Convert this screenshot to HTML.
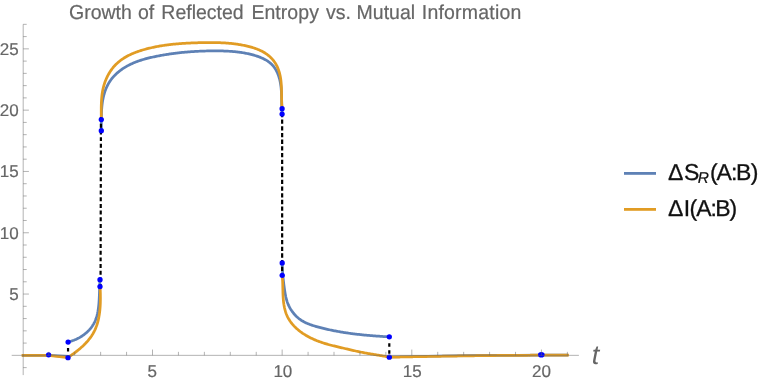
<!DOCTYPE html>
<html><head><meta charset="utf-8"><title>Growth of Reflected Entropy vs. Mutual Information</title>
<style>
html,body{margin:0;padding:0;background:#fff}
body{width:766px;height:384px;overflow:hidden;position:relative}
svg{position:absolute;left:0;top:0;display:block;will-change:transform}
text{font-family:"Liberation Sans",sans-serif;text-rendering:geometricPrecision}
</style></head><body>
<svg width="766" height="384" viewBox="0 0 766 384">
<rect width="766" height="384" fill="#fff"/>
<g fill="none" stroke="#5e81b5" stroke-width="2.75" stroke-linejoin="round" stroke-linecap="butt">
<path d="M22.00,355.35 L48.50,355.35 L68.00,356.30"/>
<path d="M68.10,342.10 L69.01,341.77 L70.00,341.51 L70.98,341.22 L71.96,340.91 L72.93,340.57 L73.90,340.21 L74.85,339.83 L75.80,339.43 L76.74,339.00 L77.66,338.55 L78.58,338.08 L79.48,337.59 L80.37,337.07 L81.24,336.54 L82.11,335.98 L82.95,335.40 L83.78,334.80 L84.60,334.19 L85.39,333.55 L86.17,332.90 L86.93,332.22 L87.67,331.53 L88.39,330.82 L89.09,330.09 L89.76,329.34 L90.42,328.57 L91.04,327.79 L91.65,326.99 L92.23,326.18 L92.78,325.34 L93.31,324.50 L93.81,323.63 L94.28,322.75 L94.73,321.86 L95.14,320.95 L95.53,320.03 L95.89,319.09 L96.22,318.14 L96.53,317.19 L96.82,316.22 L97.08,315.24 L97.32,314.25 L97.55,313.26 L97.75,312.25 L97.94,311.25 L98.11,310.23 L98.26,309.22 L98.40,308.19 L98.53,307.17 L98.65,306.14 L98.75,305.12 L98.85,304.09 L98.93,303.06 L99.01,302.03 L99.08,301.00 L99.14,299.98 L99.20,298.95 L99.25,297.92 L99.30,296.90 L99.34,295.87 L99.38,294.85 L99.42,293.83 L99.45,292.81 L99.48,291.79 L99.52,290.77 L99.55,289.76 L99.58,288.74 L99.62,287.73 L99.66,286.72 L99.70,285.72 L99.74,284.71 L99.79,283.71 L99.85,282.72 L99.91,281.72 L99.97,280.73 L100.00,279.70"/>
<path d="M101.30,130.50 L101.31,129.49 L101.32,128.51 L101.32,127.52 L101.32,126.53 L101.32,125.53 L101.32,124.54 L101.32,123.53 L101.32,122.53 L101.32,121.53 L101.33,120.52 L101.33,119.51 L101.34,118.50 L101.35,117.49 L101.37,116.48 L101.39,115.46 L101.42,114.45 L101.45,113.44 L101.49,112.42 L101.54,111.41 L101.60,110.40 L101.66,109.39 L101.73,108.38 L101.81,107.37 L101.91,106.36 L102.01,105.36 L102.12,104.35 L102.25,103.35 L102.38,102.35 L102.54,101.36 L102.70,100.36 L102.88,99.38 L103.07,98.39 L103.28,97.41 L103.51,96.43 L103.75,95.46 L104.00,94.49 L104.28,93.53 L104.57,92.57 L104.89,91.62 L105.22,90.67 L105.57,89.73 L105.94,88.80 L106.33,87.88 L106.75,86.96 L107.18,86.06 L107.63,85.16 L108.10,84.27 L108.60,83.40 L109.12,82.54 L109.65,81.69 L110.21,80.85 L110.80,80.03 L111.40,79.22 L112.02,78.43 L112.67,77.65 L113.33,76.89 L114.01,76.14 L114.70,75.41 L115.42,74.69 L116.14,73.99 L116.88,73.30 L117.64,72.63 L118.41,71.98 L119.18,71.34 L119.97,70.72 L120.77,70.12 L121.58,69.53 L122.40,68.96 L123.23,68.40 L124.06,67.86 L124.91,67.33 L125.76,66.82 L126.62,66.32 L127.49,65.84 L128.37,65.37 L129.25,64.92 L130.14,64.48 L131.04,64.05 L131.95,63.63 L132.86,63.23 L133.78,62.83 L134.70,62.45 L135.63,62.08 L136.56,61.72 L137.50,61.38 L138.45,61.04 L139.40,60.71 L140.35,60.40 L141.31,60.09 L142.27,59.79 L143.24,59.50 L144.21,59.22 L145.18,58.94 L146.16,58.68 L147.14,58.42 L148.12,58.17 L149.11,57.93 L150.09,57.69 L151.08,57.46 L152.07,57.24 L153.06,57.02 L154.06,56.81 L155.05,56.60 L156.04,56.39 L157.04,56.20 L158.03,56.00 L159.03,55.81 L160.02,55.62 L161.02,55.44 L162.01,55.26 L163.01,55.09 L164.00,54.92 L165.00,54.75 L166.00,54.59 L166.99,54.43 L167.99,54.27 L168.98,54.12 L169.98,53.98 L170.98,53.83 L171.97,53.69 L172.97,53.56 L173.97,53.42 L174.96,53.29 L175.96,53.17 L176.96,53.05 L177.96,52.93 L178.95,52.82 L179.95,52.71 L180.95,52.60 L181.95,52.49 L182.94,52.39 L183.94,52.30 L184.94,52.20 L185.94,52.11 L186.94,52.03 L187.94,51.94 L188.94,51.86 L189.93,51.79 L190.93,51.72 L191.93,51.65 L192.93,51.58 L193.93,51.52 L194.93,51.46 L195.93,51.40 L196.93,51.34 L197.93,51.29 L198.93,51.25 L199.93,51.20 L200.93,51.16 L201.94,51.12 L202.94,51.09 L203.94,51.05 L204.94,51.03 L205.94,51.00 L206.94,50.98 L207.95,50.96 L208.95,50.94 L209.95,50.92 L210.95,50.91 L211.95,50.90 L212.96,50.89 L213.96,50.89 L214.96,50.89 L215.97,50.89 L216.97,50.90 L217.97,50.90 L218.98,50.91 L219.98,50.93 L220.99,50.95 L221.99,50.97 L222.99,50.99 L224.00,51.02 L225.00,51.06 L226.00,51.10 L227.01,51.14 L228.01,51.19 L229.01,51.25 L230.02,51.31 L231.02,51.38 L232.02,51.45 L233.02,51.53 L234.02,51.62 L235.02,51.72 L236.02,51.82 L237.02,51.93 L238.02,52.05 L239.02,52.17 L240.02,52.31 L241.01,52.45 L242.01,52.60 L243.00,52.76 L244.00,52.93 L244.99,53.11 L245.98,53.30 L246.98,53.50 L247.97,53.71 L248.96,53.93 L249.95,54.16 L250.93,54.40 L251.92,54.65 L252.90,54.92 L253.89,55.19 L254.87,55.48 L255.85,55.78 L256.83,56.09 L257.80,56.42 L258.77,56.77 L259.72,57.13 L260.67,57.50 L261.61,57.90 L262.54,58.31 L263.45,58.74 L264.35,59.19 L265.24,59.66 L266.10,60.15 L266.95,60.67 L267.78,61.20 L268.59,61.76 L269.38,62.35 L270.14,62.96 L270.88,63.60 L271.59,64.26 L272.27,64.95 L272.93,65.67 L273.55,66.42 L274.15,67.19 L274.72,67.99 L275.26,68.81 L275.77,69.66 L276.26,70.52 L276.72,71.40 L277.16,72.31 L277.57,73.22 L277.95,74.16 L278.31,75.10 L278.65,76.06 L278.97,77.02 L279.26,78.00 L279.53,78.98 L279.78,79.96 L280.01,80.96 L280.21,81.95 L280.40,82.95 L280.57,83.95 L280.73,84.95 L280.87,85.96 L280.99,86.96 L281.10,87.97 L281.19,88.99 L281.28,90.00 L281.35,91.01 L281.41,92.03 L281.47,93.05 L281.51,94.06 L281.55,95.08 L281.58,96.09 L281.61,97.11 L281.63,98.12 L281.65,99.14 L281.66,100.15 L281.68,101.16 L281.69,102.17 L281.71,103.18 L281.73,104.18 L281.75,105.19 L281.77,106.19 L281.80,107.18 L281.83,108.18 L281.87,109.16 L281.91,110.15 L281.97,111.13 L282.03,112.11 L282.11,113.08 L282.15,114.10"/>
<path d="M282.20,262.95 L282.18,263.97 L282.21,264.97 L282.25,265.98 L282.29,266.98 L282.34,267.99 L282.39,268.99 L282.45,269.99 L282.51,271.00 L282.58,272.00 L282.65,273.00 L282.73,274.00 L282.82,275.00 L282.90,276.00 L283.00,277.00 L283.09,278.00 L283.19,279.00 L283.30,280.00 L283.41,281.00 L283.53,282.00 L283.64,283.01 L283.77,284.01 L283.89,285.01 L284.03,286.01 L284.16,287.01 L284.30,288.01 L284.44,289.02 L284.59,290.02 L284.74,291.02 L284.90,292.02 L285.06,293.02 L285.24,294.02 L285.43,295.02 L285.63,296.01 L285.84,297.00 L286.08,297.98 L286.33,298.96 L286.60,299.93 L286.89,300.89 L287.20,301.85 L287.54,302.79 L287.91,303.73 L288.30,304.66 L288.71,305.58 L289.16,306.48 L289.62,307.38 L290.11,308.26 L290.63,309.13 L291.17,309.98 L291.73,310.82 L292.31,311.64 L292.91,312.45 L293.54,313.24 L294.19,314.01 L294.86,314.76 L295.54,315.49 L296.25,316.20 L296.98,316.89 L297.72,317.56 L298.49,318.21 L299.27,318.83 L300.07,319.42 L300.88,320.00 L301.72,320.54 L302.56,321.06 L303.43,321.56 L304.30,322.03 L305.19,322.48 L306.10,322.91 L307.01,323.33 L307.94,323.72 L308.87,324.09 L309.81,324.45 L310.76,324.79 L311.72,325.12 L312.68,325.44 L313.65,325.74 L314.63,326.04 L315.60,326.33 L316.58,326.61 L317.56,326.88 L318.54,327.14 L319.52,327.41 L320.51,327.66 L321.49,327.92 L322.47,328.16 L323.46,328.41 L324.44,328.64 L325.43,328.88 L326.41,329.11 L327.40,329.33 L328.38,329.55 L329.37,329.77 L330.36,329.98 L331.34,330.19 L332.33,330.39 L333.32,330.59 L334.31,330.78 L335.30,330.97 L336.29,331.16 L337.28,331.34 L338.27,331.52 L339.26,331.70 L340.25,331.87 L341.24,332.04 L342.24,332.20 L343.23,332.36 L344.22,332.52 L345.22,332.67 L346.21,332.82 L347.21,332.97 L348.20,333.11 L349.20,333.25 L350.19,333.39 L351.19,333.52 L352.18,333.65 L353.18,333.78 L354.18,333.91 L355.18,334.03 L356.17,334.15 L357.17,334.26 L358.17,334.38 L359.17,334.49 L360.17,334.60 L361.17,334.70 L362.17,334.81 L363.17,334.91 L364.17,335.01 L365.17,335.10 L366.18,335.20 L367.18,335.29 L368.18,335.38 L369.18,335.47 L370.19,335.55 L371.19,335.64 L372.19,335.72 L373.20,335.80 L374.20,335.88 L375.21,335.95 L376.21,336.03 L377.22,336.10 L378.22,336.17 L379.23,336.24 L380.24,336.31 L381.24,336.38 L382.25,336.44 L383.26,336.51 L384.27,336.57 L385.27,336.63 L386.28,336.69 L387.29,336.75 L388.30,336.81 L389.30,336.80"/>
<path d="M389.30,357.00 L415.00,356.50 L440.00,356.00 L466.00,355.60 L492.00,355.35 L518.00,355.25 L541.00,355.20 L568.00,355.15"/>
</g>
<g fill="none" stroke="#e19c24" stroke-width="2.75" stroke-linejoin="round" stroke-linecap="butt">
<path d="M21.60,355.35 L48.50,355.35 L68.00,357.70"/>
<path d="M68.00,357.70 L68.72,357.03 L69.55,356.47 L70.38,355.90 L71.21,355.32 L72.04,354.73 L72.87,354.14 L73.69,353.54 L74.51,352.93 L75.33,352.32 L76.15,351.69 L76.96,351.06 L77.76,350.42 L78.56,349.77 L79.35,349.12 L80.14,348.45 L80.91,347.77 L81.68,347.09 L82.44,346.40 L83.19,345.70 L83.93,344.99 L84.65,344.26 L85.37,343.54 L86.07,342.80 L86.76,342.05 L87.43,341.29 L88.09,340.52 L88.74,339.74 L89.37,338.95 L89.98,338.16 L90.58,337.35 L91.16,336.53 L91.72,335.70 L92.26,334.86 L92.78,334.01 L93.28,333.14 L93.76,332.27 L94.22,331.39 L94.66,330.49 L95.08,329.59 L95.47,328.68 L95.85,327.75 L96.21,326.82 L96.56,325.88 L96.88,324.94 L97.19,323.98 L97.48,323.02 L97.75,322.05 L98.01,321.07 L98.25,320.09 L98.47,319.10 L98.68,318.10 L98.88,317.11 L99.06,316.10 L99.23,315.09 L99.38,314.08 L99.52,313.07 L99.65,312.05 L99.77,311.03 L99.88,310.00 L99.97,308.98 L100.06,307.95 L100.13,306.92 L100.20,305.89 L100.25,304.86 L100.30,303.83 L100.33,302.80 L100.36,301.77 L100.38,300.74 L100.40,299.71 L100.41,298.68 L100.41,297.66 L100.40,296.64 L100.39,295.62 L100.38,294.60 L100.36,293.59 L100.33,292.58 L100.30,291.58 L100.27,290.58 L100.24,289.58 L100.20,288.59 L100.16,287.61 L100.20,286.60"/>
<path d="M101.30,119.60 L101.29,118.59 L101.29,117.60 L101.28,116.60 L101.28,115.61 L101.27,114.61 L101.26,113.61 L101.26,112.61 L101.25,111.60 L101.25,110.60 L101.25,109.60 L101.26,108.59 L101.26,107.58 L101.28,106.58 L101.30,105.57 L101.32,104.56 L101.35,103.55 L101.39,102.55 L101.44,101.54 L101.50,100.54 L101.56,99.53 L101.64,98.53 L101.72,97.52 L101.82,96.52 L101.93,95.52 L102.05,94.53 L102.19,93.53 L102.34,92.54 L102.50,91.54 L102.68,90.56 L102.88,89.57 L103.09,88.59 L103.32,87.60 L103.57,86.63 L103.83,85.65 L104.12,84.68 L104.42,83.72 L104.74,82.76 L105.08,81.80 L105.44,80.85 L105.82,79.91 L106.21,78.97 L106.62,78.04 L107.06,77.13 L107.50,76.22 L107.97,75.32 L108.45,74.43 L108.95,73.55 L109.47,72.68 L110.01,71.83 L110.56,70.98 L111.13,70.15 L111.72,69.34 L112.32,68.54 L112.94,67.75 L113.57,66.99 L114.22,66.23 L114.89,65.50 L115.57,64.78 L116.27,64.08 L116.99,63.40 L117.72,62.73 L118.46,62.09 L119.22,61.46 L119.99,60.85 L120.77,60.25 L121.57,59.67 L122.38,59.10 L123.20,58.56 L124.04,58.02 L124.88,57.50 L125.74,57.00 L126.60,56.51 L127.48,56.03 L128.36,55.57 L129.26,55.12 L130.16,54.69 L131.07,54.26 L131.99,53.85 L132.91,53.45 L133.85,53.06 L134.79,52.69 L135.73,52.32 L136.68,51.97 L137.64,51.63 L138.60,51.29 L139.56,50.97 L140.53,50.65 L141.50,50.35 L142.48,50.05 L143.46,49.77 L144.44,49.49 L145.42,49.22 L146.40,48.95 L147.39,48.70 L148.37,48.45 L149.36,48.20 L150.34,47.97 L151.33,47.74 L152.32,47.52 L153.30,47.30 L154.29,47.10 L155.28,46.89 L156.27,46.70 L157.26,46.51 L158.26,46.32 L159.25,46.15 L160.24,45.97 L161.23,45.81 L162.23,45.65 L163.22,45.49 L164.22,45.34 L165.21,45.20 L166.21,45.06 L167.20,44.93 L168.20,44.80 L169.20,44.67 L170.19,44.56 L171.19,44.44 L172.19,44.33 L173.19,44.23 L174.19,44.13 L175.18,44.03 L176.18,43.94 L177.18,43.85 L178.18,43.76 L179.18,43.68 L180.18,43.60 L181.18,43.53 L182.18,43.46 L183.18,43.39 L184.18,43.33 L185.18,43.27 L186.19,43.21 L187.19,43.16 L188.19,43.11 L189.19,43.06 L190.19,43.02 L191.19,42.97 L192.19,42.93 L193.19,42.89 L194.19,42.86 L195.19,42.82 L196.19,42.79 L197.19,42.76 L198.19,42.73 L199.19,42.70 L200.19,42.68 L201.19,42.66 L202.19,42.63 L203.19,42.61 L204.19,42.59 L205.19,42.58 L206.19,42.57 L207.19,42.55 L208.19,42.55 L209.19,42.54 L210.19,42.54 L211.19,42.54 L212.18,42.54 L213.18,42.55 L214.18,42.56 L215.18,42.58 L216.18,42.60 L217.18,42.62 L218.18,42.65 L219.17,42.68 L220.17,42.72 L221.17,42.76 L222.17,42.80 L223.17,42.86 L224.17,42.91 L225.17,42.98 L226.16,43.05 L227.16,43.12 L228.16,43.20 L229.16,43.29 L230.16,43.38 L231.16,43.48 L232.16,43.59 L233.16,43.70 L234.16,43.82 L235.16,43.95 L236.16,44.08 L237.16,44.23 L238.16,44.38 L239.16,44.53 L240.16,44.70 L241.17,44.87 L242.17,45.06 L243.17,45.25 L244.17,45.45 L245.17,45.66 L246.18,45.88 L247.18,46.11 L248.18,46.34 L249.17,46.60 L250.16,46.86 L251.15,47.13 L252.14,47.42 L253.12,47.72 L254.09,48.03 L255.05,48.36 L256.01,48.70 L256.96,49.06 L257.90,49.43 L258.83,49.82 L259.75,50.22 L260.66,50.65 L261.56,51.09 L262.44,51.54 L263.31,52.02 L264.17,52.52 L265.01,53.04 L265.84,53.57 L266.65,54.13 L267.45,54.71 L268.22,55.31 L268.98,55.93 L269.72,56.58 L270.44,57.25 L271.14,57.94 L271.82,58.66 L272.48,59.39 L273.12,60.15 L273.73,60.93 L274.32,61.72 L274.88,62.54 L275.42,63.37 L275.94,64.22 L276.42,65.08 L276.88,65.96 L277.32,66.86 L277.72,67.77 L278.10,68.70 L278.46,69.63 L278.79,70.58 L279.09,71.54 L279.38,72.51 L279.64,73.48 L279.88,74.47 L280.10,75.46 L280.30,76.45 L280.48,77.46 L280.64,78.46 L280.78,79.47 L280.91,80.48 L281.03,81.49 L281.12,82.50 L281.21,83.52 L281.28,84.54 L281.34,85.55 L281.40,86.57 L281.44,87.58 L281.47,88.60 L281.50,89.62 L281.52,90.63 L281.54,91.65 L281.55,92.67 L281.56,93.68 L281.57,94.69 L281.58,95.70 L281.59,96.71 L281.60,97.72 L281.61,98.72 L281.63,99.73 L281.65,100.73 L281.68,101.72 L281.72,102.72 L281.76,103.71 L281.81,104.69 L281.88,105.68 L281.95,106.66 L282.04,107.63 L282.10,108.65"/>
<path d="M282.20,275.30 L282.27,276.31 L282.36,277.29 L282.44,278.28 L282.51,279.27 L282.57,280.26 L282.62,281.26 L282.66,282.25 L282.70,283.26 L282.73,284.26 L282.76,285.27 L282.78,286.28 L282.80,287.29 L282.83,288.30 L282.85,289.31 L282.87,290.33 L282.90,291.34 L282.92,292.36 L282.96,293.37 L282.99,294.39 L283.04,295.41 L283.09,296.43 L283.15,297.44 L283.22,298.46 L283.30,299.48 L283.39,300.49 L283.49,301.51 L283.61,302.52 L283.75,303.53 L283.89,304.54 L284.06,305.55 L284.24,306.55 L284.44,307.55 L284.67,308.54 L284.91,309.53 L285.17,310.51 L285.45,311.48 L285.76,312.44 L286.09,313.38 L286.45,314.31 L286.83,315.23 L287.24,316.14 L287.67,317.03 L288.12,317.90 L288.60,318.76 L289.11,319.61 L289.64,320.44 L290.18,321.26 L290.75,322.06 L291.35,322.85 L291.96,323.63 L292.59,324.39 L293.24,325.13 L293.91,325.87 L294.59,326.58 L295.30,327.29 L296.02,327.98 L296.76,328.66 L297.51,329.32 L298.28,329.97 L299.06,330.61 L299.86,331.24 L300.66,331.85 L301.49,332.44 L302.32,333.03 L303.17,333.60 L304.02,334.16 L304.89,334.70 L305.76,335.24 L306.65,335.76 L307.54,336.26 L308.44,336.76 L309.35,337.24 L310.27,337.71 L311.19,338.17 L312.11,338.61 L313.04,339.04 L313.98,339.46 L314.92,339.87 L315.86,340.27 L316.80,340.65 L317.75,341.02 L318.70,341.38 L319.65,341.73 L320.60,342.07 L321.55,342.40 L322.50,342.72 L323.45,343.03 L324.41,343.33 L325.37,343.62 L326.32,343.90 L327.28,344.18 L328.24,344.45 L329.20,344.71 L330.16,344.97 L331.13,345.22 L332.09,345.47 L333.06,345.71 L334.02,345.95 L334.99,346.19 L335.96,346.42 L336.93,346.65 L337.90,346.88 L338.87,347.11 L339.85,347.34 L340.82,347.57 L341.80,347.79 L342.78,348.02 L343.76,348.25 L344.74,348.49 L345.72,348.72 L346.70,348.95 L347.69,349.18 L348.67,349.42 L349.66,349.65 L350.65,349.88 L351.63,350.11 L352.62,350.33 L353.61,350.56 L354.60,350.78 L355.59,351.00 L356.58,351.22 L357.57,351.43 L358.56,351.64 L359.55,351.85 L360.54,352.05 L361.53,352.25 L362.52,352.44 L363.51,352.63 L364.50,352.82 L365.49,353.00 L366.48,353.18 L367.47,353.35 L368.46,353.53 L369.45,353.70 L370.44,353.87 L371.44,354.04 L372.43,354.21 L373.42,354.37 L374.41,354.54 L375.40,354.70 L376.39,354.86 L377.39,355.03 L378.38,355.19 L379.37,355.35 L380.36,355.52 L381.36,355.68 L382.35,355.85 L383.34,356.02 L384.34,356.19 L385.33,356.36 L386.32,356.53 L387.32,356.71 L388.31,356.89 L389.30,357.10"/>
<path d="M389.30,357.20 L390.31,357.18 L391.32,357.16 L392.33,357.14 L393.34,357.12 L394.34,357.10 L395.35,357.08 L396.36,357.06 L397.37,357.04 L398.38,357.03 L399.39,357.01 L400.40,356.99 L401.41,356.97 L402.42,356.95 L403.42,356.93 L404.43,356.91 L405.44,356.89 L406.45,356.87 L407.46,356.86 L408.47,356.84 L409.48,356.82 L410.49,356.80 L411.50,356.78 L412.50,356.76 L413.51,356.74 L414.52,356.73 L415.53,356.71 L416.54,356.69 L417.55,356.67 L418.56,356.65 L419.57,356.63 L420.58,356.62 L421.58,356.60 L422.59,356.58 L423.60,356.56 L424.61,356.54 L425.62,356.53 L426.63,356.51 L427.64,356.49 L428.65,356.47 L429.66,356.46 L430.66,356.44 L431.67,356.42 L432.68,356.40 L433.69,356.39 L434.70,356.37 L435.71,356.35 L436.72,356.33 L437.73,356.32 L438.74,356.30 L439.75,356.28 L440.75,356.27 L441.76,356.25 L442.77,356.23 L443.78,356.22 L444.79,356.20 L445.80,356.18 L446.81,356.17 L447.82,356.15 L448.83,356.13 L449.83,356.12 L450.84,356.10 L451.85,356.09 L452.86,356.07 L453.87,356.06 L454.88,356.04 L455.89,356.02 L456.90,356.01 L457.91,355.99 L458.92,355.98 L459.92,355.96 L460.93,355.95 L461.94,355.93 L462.95,355.92 L463.96,355.90 L464.97,355.89 L465.98,355.88 L466.99,355.86 L468.00,355.85 L469.01,355.83 L470.01,355.82 L471.02,355.81 L472.03,355.79 L473.04,355.78 L474.05,355.76 L475.06,355.75 L476.07,355.74 L477.08,355.73 L478.09,355.71 L479.09,355.70 L480.10,355.69 L481.11,355.67 L482.12,355.66 L483.13,355.65 L484.14,355.64 L485.15,355.62 L486.16,355.61 L487.17,355.60 L488.18,355.59 L489.18,355.58 L490.19,355.57 L491.20,355.56 L492.21,355.54 L493.22,355.53 L494.23,355.52 L495.24,355.51 L496.25,355.50 L497.26,355.49 L498.27,355.48 L499.27,355.47 L500.28,355.46 L501.29,355.45 L502.30,355.44 L503.31,355.43 L504.32,355.42 L505.33,355.41 L506.34,355.40 L507.35,355.40 L508.36,355.39 L509.37,355.38 L510.37,355.37 L511.38,355.36 L512.39,355.35 L513.40,355.35 L514.41,355.34 L515.42,355.33 L516.43,355.32 L517.44,355.32 L518.45,355.31 L519.46,355.30 L520.46,355.30 L521.47,355.29 L522.48,355.28 L523.49,355.28 L524.50,355.27 L525.51,355.27 L526.52,355.26 L527.53,355.26 L528.54,355.25 L529.55,355.25 L530.55,355.24 L531.56,355.24 L532.57,355.23 L533.58,355.23 L534.59,355.22 L535.60,355.22 L536.61,355.22 L537.62,355.21 L538.63,355.21 L539.64,355.21 L540.65,355.21 L541.65,355.20 L542.66,355.20 L543.67,355.20 L544.68,355.20 L545.69,355.19 L546.70,355.19 L547.71,355.19 L548.72,355.19 L549.73,355.19 L550.74,355.19 L551.75,355.19 L552.75,355.19 L553.76,355.19 L554.77,355.19 L555.78,355.19 L556.79,355.19 L557.80,355.19 L558.81,355.19 L559.82,355.19 L560.83,355.20 L561.84,355.20 L562.85,355.20 L563.85,355.20 L564.86,355.20 L565.87,355.21 L566.88,355.21 L567.89,355.21 L568.90,355.20"/>
</g>
<g stroke="#000" stroke-width="2.2" fill="none">
<line x1="68.05" y1="347.9" x2="68.05" y2="357.7" stroke-dasharray="3.7 3.4"/>
<line x1="100.95" y1="117.1" x2="100.55" y2="286.6" stroke-dasharray="3.95 2.73"/>
<line x1="282.15" y1="112.86" x2="282.15" y2="275.3" stroke-dasharray="4.3 2.39"/>
<line x1="389.3" y1="343.2" x2="389.3" y2="357.2" stroke-dasharray="3.5 3.5"/>
</g>
<g fill="#0000ff">
<circle cx="48.6" cy="354.8" r="2.65"/>
<circle cx="68.1" cy="342.1" r="2.65"/>
<circle cx="68.0" cy="357.7" r="2.65"/>
<circle cx="100.0" cy="279.7" r="2.65"/>
<circle cx="100.0" cy="286.6" r="2.65"/>
<circle cx="101.3" cy="119.6" r="2.65"/>
<circle cx="101.3" cy="130.7" r="2.65"/>
<circle cx="282.1" cy="108.65" r="2.65"/>
<circle cx="282.1" cy="114.1" r="2.65"/>
<circle cx="282.2" cy="262.95" r="2.65"/>
<circle cx="282.2" cy="275.3" r="2.65"/>
<circle cx="389.3" cy="336.8" r="2.65"/>
<circle cx="389.3" cy="357.2" r="2.65"/>
<ellipse cx="541.3" cy="354.8" rx="3.3" ry="2.8"/>
</g>
<g stroke="#666" stroke-width="0.5" fill="none">
<line x1="11.7" y1="355.35" x2="578.9" y2="355.35"/>
<line x1="23.2" y1="24.35" x2="23.2" y2="375.1"/>
<line x1="48.78" y1="355.35" x2="48.78" y2="351.85"/>
<line x1="74.71" y1="355.35" x2="74.71" y2="351.85"/>
<line x1="100.64" y1="355.35" x2="100.64" y2="351.85"/>
<line x1="126.57" y1="355.35" x2="126.57" y2="351.85"/>
<line x1="152.50" y1="355.35" x2="152.50" y2="349.55"/>
<line x1="178.43" y1="355.35" x2="178.43" y2="351.85"/>
<line x1="204.36" y1="355.35" x2="204.36" y2="351.85"/>
<line x1="230.29" y1="355.35" x2="230.29" y2="351.85"/>
<line x1="256.22" y1="355.35" x2="256.22" y2="351.85"/>
<line x1="282.15" y1="355.35" x2="282.15" y2="349.55"/>
<line x1="308.08" y1="355.35" x2="308.08" y2="351.85"/>
<line x1="334.01" y1="355.35" x2="334.01" y2="351.85"/>
<line x1="359.94" y1="355.35" x2="359.94" y2="351.85"/>
<line x1="385.87" y1="355.35" x2="385.87" y2="351.85"/>
<line x1="411.80" y1="355.35" x2="411.80" y2="349.55"/>
<line x1="437.73" y1="355.35" x2="437.73" y2="351.85"/>
<line x1="463.66" y1="355.35" x2="463.66" y2="351.85"/>
<line x1="489.59" y1="355.35" x2="489.59" y2="351.85"/>
<line x1="515.52" y1="355.35" x2="515.52" y2="351.85"/>
<line x1="541.45" y1="355.35" x2="541.45" y2="349.55"/>
<line x1="567.38" y1="355.35" x2="567.38" y2="351.85"/>
<line x1="23.2" y1="367.61" x2="26.70" y2="367.61"/>
<line x1="23.2" y1="343.09" x2="26.70" y2="343.09"/>
<line x1="23.2" y1="330.83" x2="26.70" y2="330.83"/>
<line x1="23.2" y1="318.57" x2="26.70" y2="318.57"/>
<line x1="23.2" y1="306.31" x2="26.70" y2="306.31"/>
<line x1="23.2" y1="294.05" x2="28.90" y2="294.05"/>
<line x1="23.2" y1="281.79" x2="26.70" y2="281.79"/>
<line x1="23.2" y1="269.53" x2="26.70" y2="269.53"/>
<line x1="23.2" y1="257.27" x2="26.70" y2="257.27"/>
<line x1="23.2" y1="245.01" x2="26.70" y2="245.01"/>
<line x1="23.2" y1="232.75" x2="28.90" y2="232.75"/>
<line x1="23.2" y1="220.49" x2="26.70" y2="220.49"/>
<line x1="23.2" y1="208.23" x2="26.70" y2="208.23"/>
<line x1="23.2" y1="195.97" x2="26.70" y2="195.97"/>
<line x1="23.2" y1="183.71" x2="26.70" y2="183.71"/>
<line x1="23.2" y1="171.45" x2="28.90" y2="171.45"/>
<line x1="23.2" y1="159.19" x2="26.70" y2="159.19"/>
<line x1="23.2" y1="146.93" x2="26.70" y2="146.93"/>
<line x1="23.2" y1="134.67" x2="26.70" y2="134.67"/>
<line x1="23.2" y1="122.41" x2="26.70" y2="122.41"/>
<line x1="23.2" y1="110.15" x2="28.90" y2="110.15"/>
<line x1="23.2" y1="97.89" x2="26.70" y2="97.89"/>
<line x1="23.2" y1="85.63" x2="26.70" y2="85.63"/>
<line x1="23.2" y1="73.37" x2="26.70" y2="73.37"/>
<line x1="23.2" y1="61.11" x2="26.70" y2="61.11"/>
<line x1="23.2" y1="48.85" x2="28.90" y2="48.85"/>
<line x1="23.2" y1="36.59" x2="26.70" y2="36.59"/>
<line x1="23.2" y1="24.33" x2="26.70" y2="24.33"/>
</g>
<g fill="#666" stroke="#666" stroke-width="0.2" font-size="17px">
<text x="147.5" y="377">5</text>
<text x="273.4" y="377">10</text>
<text x="402.85" y="377">15</text>
<text x="532.1" y="377">20</text>
<text x="18.6" y="300" text-anchor="end">5</text>
<text x="18.6" y="239" text-anchor="end">10</text>
<text x="18.6" y="177" text-anchor="end">15</text>
<text x="18.6" y="116" text-anchor="end">20</text>
<text x="18.6" y="55" text-anchor="end">25</text>
</g>
<text x="591.8" y="364.4" font-size="27px" font-style="italic" fill="#666">t</text>
<g fill="#666" stroke="#666" stroke-width="0.2" font-size="19.5px" transform="translate(0,19.3) scale(1,1.035)">
<text x="69.0" y="0">Growth</text>
<text x="137.9" y="0">of</text>
<text x="161.3" y="0">Reflected</text>
<text x="251.4" y="0" letter-spacing="0.05">Entropy</text>
<text x="326.1" y="0">vs.</text>
<text x="356.6" y="0">Mutual</text>
<text x="421.8" y="0" letter-spacing="0.2">Information</text>
</g>
<line x1="624" y1="173.4" x2="656" y2="173.4" stroke="#5e81b5" stroke-width="2.8"/>
<line x1="624" y1="209.4" x2="656" y2="209.4" stroke="#e19c24" stroke-width="2.8"/>
<g fill="#111" stroke="#111" stroke-width="0.3" font-size="23px">
<g transform="translate(0,179.7) scale(1,1)">
<text y="0" x="668.0 683.97">ΔS</text>
<text y="3.0" x="697.8" font-size="15.5px" font-style="italic" stroke-width="0.2">R</text>
<text y="0" x="709.9 716.6 730.9 736.0 750.7">(A:B)</text>
</g>
<g transform="translate(0,215.7) scale(1,1)">
<text y="0" x="668.0 683.8 689.5 696.3 710.6 715.2 729.6">ΔI(A:B)</text>
</g>
</g>
</svg></body></html>
